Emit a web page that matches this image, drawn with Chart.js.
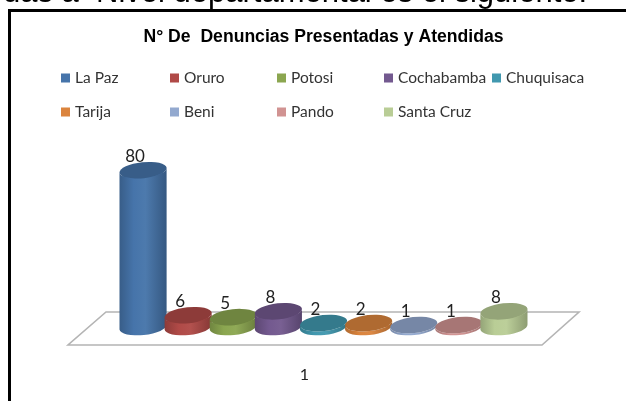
<!DOCTYPE html>
<html><head><meta charset="utf-8">
<style>
html,body{margin:0;padding:0;background:#fff;overflow:hidden;width:626px;height:401px}
#wrap{position:relative;width:626px;height:401px;overflow:hidden}
#c{position:absolute;left:0;top:0}
#top{position:absolute;left:3px;top:-26px;line-height:36px;font-size:31px;font-family:"Liberation Sans",Arial,sans-serif;white-space:pre;color:#000}
#frame{position:absolute;left:8px;top:9px;width:640px;height:420px;border-left:3px solid #000;border-top:3px solid #000}
</style></head>
<body><div id="wrap">
<canvas id="c" width="626" height="401"></canvas>
<div id="top">das a  Nivel departamental es el siguiente:</div>
<div id="frame"></div>
</div>
<script src="https://cdn.jsdelivr.net/npm/chart.js@4"></script>
<script>
const categories = ["1"];
const seriesNames = ["La Paz","Oruro","Potosi","Cochabamba","Chuquisaca","Tarija","Beni","Pando","Santa Cruz"];
const seriesValues = [80,6,5,8,2,2,1,1,8];
const seriesColors = ["#4674AA","#B04A47","#8BA650","#73598F","#4198AF","#DB843D","#93A9CF","#D19392","#B9CD96"];
const chartTitle = "N° De  Denuncias Presentadas y Atendidas";

function shade(hex,f){
  const n=parseInt(hex.slice(1),16);
  const ch=[n>>16,(n>>8)&255,n&255].map(v=>Math.max(0,Math.min(255,Math.round(f>1?v+(255-v)*(f-1):v*f))));
  return `rgb(${ch[0]},${ch[1]},${ch[2]})`;
}
const TILT=-6*Math.PI/180, RY=8;

const floorPlugin={id:'floor',beforeDatasetsDraw(chart){
  const {ctx,chartArea:a,scales:{y}}=chart, y0=y.getPixelForValue(0);
  ctx.save();ctx.beginPath();
  ctx.moveTo(a.left-52.5,y0+18);ctx.lineTo(a.right+15.5,y0+18);
  ctx.lineTo(a.right+52.5,y0-15);ctx.lineTo(a.left-14.5,y0-15);ctx.closePath();
  ctx.fillStyle='#fff';ctx.fill();ctx.strokeStyle='#b4b4b4';ctx.lineWidth=1.6;ctx.stroke();ctx.restore();
}};

const cylPlugin={id:'cyl',afterDatasetsDraw(chart){
  const {ctx,scales:{y}}=chart, y0=y.getPixelForValue(0);
  chart.data.datasets.forEach((ds,i)=>{
    const el=chart.getDatasetMeta(i).data[0], col=ds.backgroundColor;
    const rx=el.width/0.9*1.05/2, cx=el.x, top=el.y;
    const dx=rx*Math.cos(TILT);
    ctx.save();
    const g=ctx.createLinearGradient(cx-rx,0,cx+rx,0);
    g.addColorStop(0,shade(col,.8));g.addColorStop(.3,shade(col,1.0));g.addColorStop(.55,shade(col,1.04));g.addColorStop(1,shade(col,.76));
    ctx.fillStyle=g;
    ctx.beginPath();
    ctx.ellipse(cx,y0,rx,RY,TILT,0,Math.PI,false);
    ctx.lineTo(cx-dx,top-rx*Math.sin(TILT));
    ctx.ellipse(cx,top,rx,RY,TILT,Math.PI,0,true);
    ctx.lineTo(cx+dx,y0+rx*Math.sin(TILT));
    ctx.closePath();ctx.fill();
    ctx.fillStyle=shade(col,.8);
    ctx.beginPath();ctx.ellipse(cx,top,rx,RY,TILT,0,Math.PI*2);ctx.fill();
    ctx.restore();
  });
  ctx.save();ctx.fillStyle='#222';ctx.font='17px Lato';ctx.textAlign='center';ctx.textBaseline='middle';
  chart.data.datasets.forEach((ds,i)=>{
    const el=chart.getDatasetMeta(i).data[0];
    ctx.fillText(String(ds.data[0]),el.x-8,el.y-14);
  });
  ctx.restore();
}};

const LEG_X=[61,170,277,384,492], LEG_Y=[78,112];
const legendPlugin={id:'gridLegend',afterDraw(chart){
  const {ctx}=chart;
  ctx.save();ctx.font='15.5px Lato';ctx.textBaseline='middle';ctx.textAlign='left';
  chart.data.datasets.forEach((ds,i)=>{
    const row=i<5?0:1,col=i<5?i:i-5,x=LEG_X[col],yy=LEG_Y[row];
    ctx.fillStyle=ds.backgroundColor;ctx.fillRect(x,yy-4.5,9,9);
    ctx.fillStyle='#333';ctx.fillText(ds.label,x+14,yy);
  });
  ctx.restore();
}};

new Chart(document.getElementById('c'),{
  type:'bar',
  data:{labels:categories,datasets:seriesNames.map((n,i)=>({label:n,data:[seriesValues[i]],backgroundColor:seriesColors[i]}))},
  options:{
    responsive:false,animation:false,
    layout:{padding:{left:120.5,right:99.5,top:0,bottom:0}},
    datasets:{bar:{categoryPercentage:1,barPercentage:.9,borderWidth:0}},
    plugins:{
      legend:{display:false},tooltip:{enabled:false},
      title:{display:true,text:chartTitle,color:'#000',font:{family:'"Liberation Sans"',size:17.6,weight:'bold'},padding:{top:26.5,bottom:83.4}}
    },
    scales:{
      x:{grid:{display:false,drawTicks:false},border:{display:false},
         afterFit(s){s.height=74;},
         ticks:{padding:38,color:'#222',font:{family:'Lato',size:16},labelOffset:-19}},
      y:{display:false,min:0,max:100}
    }
  },
  plugins:[floorPlugin,cylPlugin,legendPlugin]
});
</script></body></html>
